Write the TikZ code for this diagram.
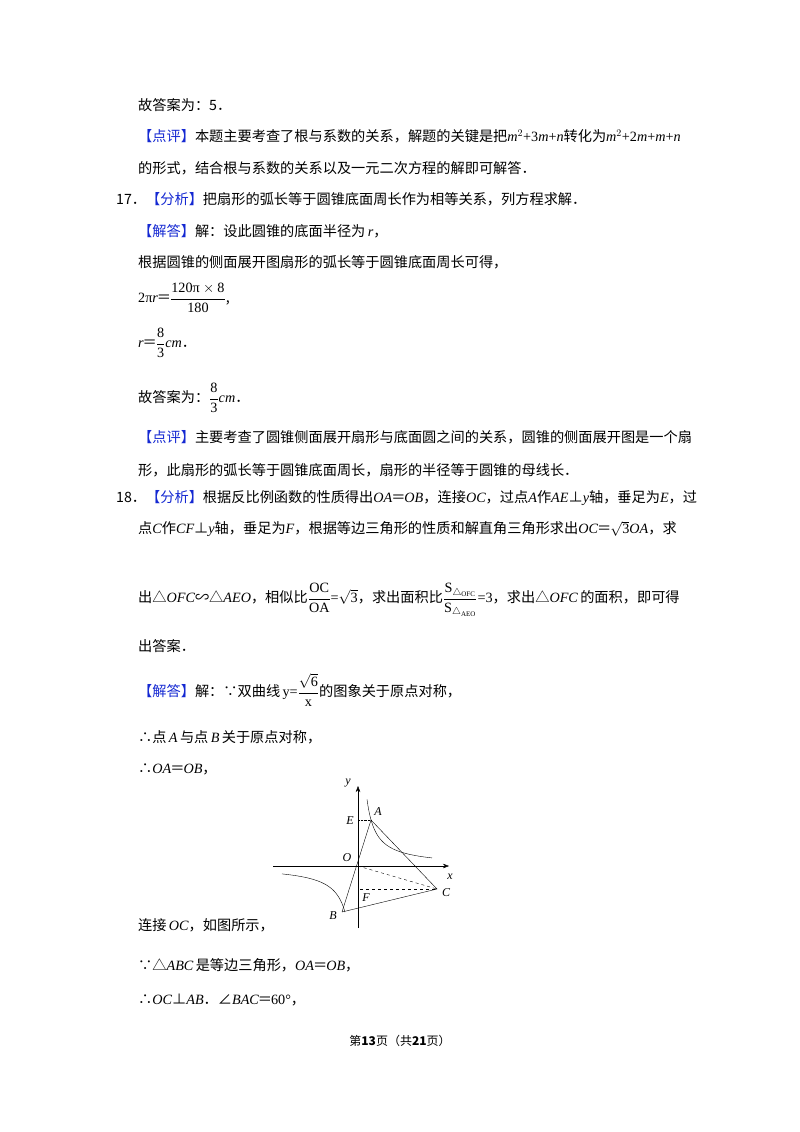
\documentclass[tikz,border=0pt]{standalone}
\usepackage{amsmath,amssymb}
\usepackage{fontspec}
\usetikzlibrary{arrows.meta}
\setmainfont{Noto Sans CJK SC}
\newfontfamily\lat{Liberation Serif}
\definecolor{hdblue}{RGB}{20,40,210}
\newcommand{\bt}[1]{\textcolor{hdblue}{#1}}
\newcommand{\mi}[1]{{\lat\itshape #1}}
\newcommand{\mr}[1]{{\lat #1}}
\newcommand{\eqq}{\kern-1pt＝\kern-1pt}
\begin{document}
\begin{tikzpicture}[x=1pt,y=-1pt,
  tl/.style={anchor=west,inner sep=0pt,font=\fontsize{14.2}{17}\selectfont},
  lb/.style={inner sep=0pt,font=\lat\itshape\fontsize{12}{12}\selectfont}]
\useasboundingbox[fill=white] (0,0) rectangle (800,1132);
\node[tl] (l1) at (138,105) {故答案为：5．};
\node[tl] (l2) at (138,136) {\bt{【点评】}本题主要考查了根与系数的关系，解题的关键是把\mi{m}$^{\mr{2}}$\mr{+3}\mi{m}\mr{+}\mi{n}转化为\mi{m}$^{\mr{2}}$\mr{+2}\mi{m}\mr{+}\mi{m}\mr{+}\mi{n}};
\node[tl] (l3) at (138,168) {的形式，结合根与系数的关系以及一元二次方程的解即可解答．};
\node[tl] (l4) at (116,199) {17．\bt{【分析】}把扇形的弧长等于圆锥底面周长作为相等关系，列方程求解．};
\node[tl] (l5) at (138,231) {\bt{【解答】}解：设此圆锥的底面半径为\,\mi{r}，};
\node[tl] (l6) at (138,262) {根据圆锥的侧面展开图扇形的弧长等于圆锥底面周长可得，};
\node[tl] (l7) at (138,298) {\mr{2π}\mi{r}\eqq$\dfrac{\text{\mr{120π}}\times\text{\mr{8}}}{\text{\mr{180}}}$,};
\node[tl] (l8) at (138,343) {\mi{r}\eqq$\dfrac{\text{\mr{8}}}{\text{\mr{3}}}$\mi{cm}．};
\node[tl] (l9) at (138,398) {故答案为：$\dfrac{\text{\mr{8}}}{\text{\mr{3}}}$\mi{cm}．};
\node[tl] (l10) at (138,437) {\bt{【点评】}主要考查了圆锥侧面展开扇形与底面圆之间的关系，圆锥的侧面展开图是一个扇};
\node[tl] (l11) at (138,470) {形，此扇形的弧长等于圆锥底面周长，扇形的半径等于圆锥的母线长．};
\node[tl] (l12) at (116,498) {18．\bt{【分析】}根据反比例函数的性质得出\mi{OA}\eqq\mi{OB}，连接\mi{OC}，过点\mi{A}作\mi{AE}⊥\mi{y}轴，垂足为\mi{E}，过};
\node[tl] (l13) at (138,529) {点\mi{C}作\mi{CF}⊥\mi{y}轴，垂足为\mi{F}，根据等边三角形的性质和解直角三角形求出\mi{OC}\eqq$\sqrt{\text{\mr{3}}}$\mi{OA}，求};
\node[tl] (l14) at (138,600) {出△\mi{OFC}∽△\mi{AEO}，相似比$\dfrac{\text{\mr{OC}}}{\text{\mr{OA}}}$\mr{=}$\sqrt{\text{\mr{3}}}$，求出面积比$\dfrac{\text{\mr{S}}_{\triangle_{\text{\mr{\scriptsize OFC}}}}}{\text{\mr{S}}_{\triangle_{\text{\mr{\scriptsize AEO}}}}}$\mr{=3}，求出△\mi{OFC}\,的面积，即可得};
\node[tl] (l15) at (138,646) {出答案．};
\node[tl] (l16) at (138,690) {\bt{【解答】}解：∵双曲线\,\mr{y=}$\dfrac{\sqrt{\text{\mr{6}}}}{\text{\mr{x}}}$的图象关于原点对称，};
\node[tl] (l17) at (138,737) {∴点\,\mi{A}\,与点\,\mi{B}\,关于原点对称，};
\node[tl] (l18) at (138,769) {∴\mi{OA}\eqq\mi{OB}，};
\node[tl] (l19) at (138,925) {连接\,\mi{OC}，如图所示，};
\node[tl] (l20) at (138,965) {∵△\mi{ABC}\,是等边三角形，\mi{OA}\eqq\mi{OB}，};
\node[tl] (l21) at (138,1000) {∴\mi{OC}⊥\mi{AB}．∠\mi{BAC}\eqq\mr{60°}，};
\node[anchor=center,inner sep=0pt,font=\fontsize{12}{14}\selectfont] (ft) at (400,1041) {第\textbf{13}页（共\textbf{21}页）};
% figure
\coordinate (O) at (358,866);
\coordinate (xs) at (273,866); \coordinate (xe) at (449,866);
\coordinate (ys) at (358,928); \coordinate (ye) at (358,786);
\coordinate (A) at (371,820); \coordinate (E) at (358,820);
\coordinate (C) at (437,889); \coordinate (F) at (360,889);
\coordinate (B) at (342,912);
\draw[-{Stealth[length=6pt]},thin] (xs) -- (xe);
\draw[-{Stealth[length=6pt]},thin] (ys) -- (ye);
\begin{scope}[shift={(O)}]
\draw[thin,domain=9:74,samples=60] plot (\x,{-600/\x});
\draw[thin,domain=-76:-13,samples=60] plot (\x,{-600/\x});
\end{scope}
\draw[thin] (B) -- (A) -- (C) -- (B);
\draw[densely dotted] (E) -- (A);
\draw[dashed] (O) -- (C);
\draw[dashed] (F) -- (C);
\node[lb] at (348,783) {y};
\node[lb] at (450,877) {x};
\node[lb] at (350,821) {E};
\node[lb] at (378,812) {A};
\node[lb] at (347,858) {O};
\node[lb] at (366,898) {F};
\node[lb] at (446,893) {C};
\node[lb] at (333,916) {B};
\end{tikzpicture}
\end{document}
